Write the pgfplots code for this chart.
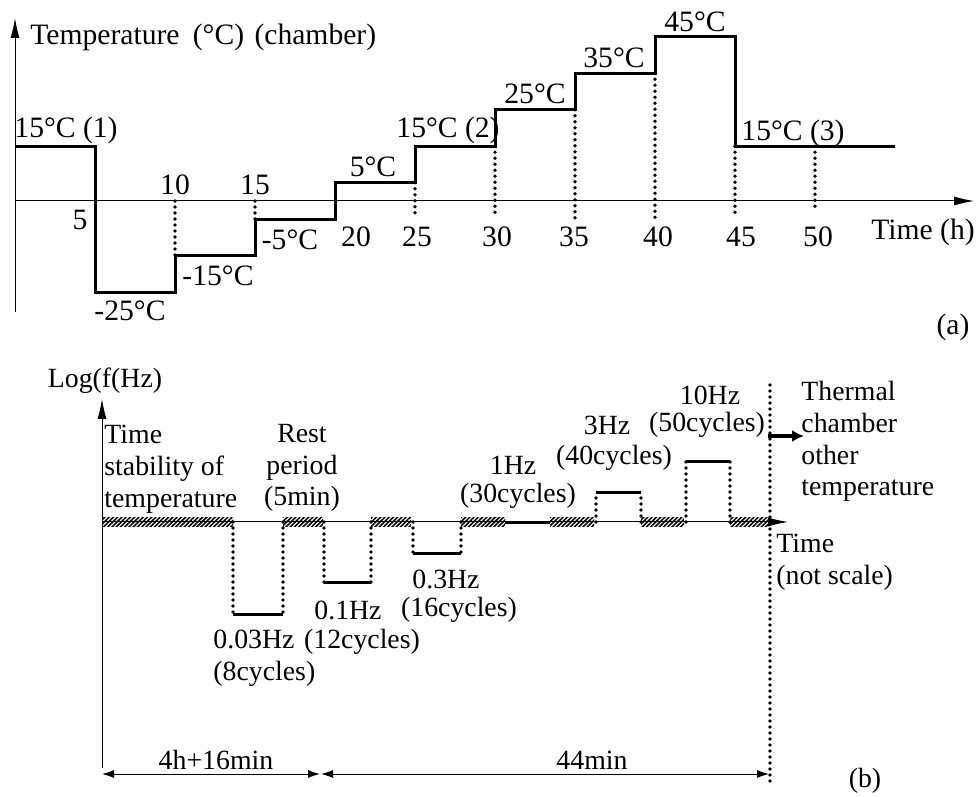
\documentclass[border=0pt]{standalone}
\usepackage{fontspec}
\setmainfont{Liberation Serif}
\usepackage{pgfplots}
\pgfplotsset{compat=1.18}
\usetikzlibrary{arrows.meta,patterns.meta}

\begin{document}
\begin{tikzpicture}[
  dots/.style={line width=1.9pt, dash pattern=on 0pt off 3pt, line cap=round},
  hatch/.style={draw=none, pattern={Lines[angle=45,distance=1.5pt,line width=0.8pt]}},
  fa/.style={font=\fontsize{14.8}{17}\selectfont, inner sep=0pt},
  fb/.style={font=\fontsize{13.9}{15.9}\selectfont, inner sep=0pt},
  ax/.style={line width=0.5pt, -{Latex[length=10pt,width=4.5pt]}},
]
% ---------- pixel-coordinate annotation layer (x right, y down) ----------
\begin{scope}[x=0.5pt, y=-0.5pt, shift={(0,398pt)}]
  % panel (a) axes
  \draw[ax] (15,312) -- (15,18);
  \draw[ax] (15,201) -- (974,201);
  \node[fa, anchor=west] at (30,37) {Temperature\hspace{0.45em}(°C)\hspace{0.35em}(chamber)};
  \node[fa] at (66,130) {15°C (1)};
  \node[fa] at (130,311) {-25°C};
  \node[fa] at (218,276) {-15°C};
  \node[fa] at (290,240) {-5°C};
  \node[fa] at (373,167) {5°C};
  \node[fa] at (448,130) {15°C (2)};
  \node[fa] at (535,94) {25°C};
  \node[fa] at (614,58) {35°C};
  \node[fa] at (695,22) {45°C};
  \node[fa] at (793,133) {15°C (3)};
  \node[fa] at (80,220) {5};
  \node[fa] at (175,185) {10};
  \node[fa] at (255,185) {15};
  \node[fa] at (356,237) {20};
  \node[fa] at (417,237) {25};
  \node[fa] at (497,237) {30};
  \node[fa] at (574,237) {35};
  \node[fa] at (658,237) {40};
  \node[fa] at (741,237) {45};
  \node[fa] at (818,237) {50};
  \node[fa] at (923,232) {Time (h)};
  \node[fa] at (953,327) {(a)};
  % panel (b) axes
  \draw[ax] (102,768) -- (102,399);
  \draw[ax] (102,522) -- (788,522);
  \draw[dots] (770,385) -- (770,783);
  \draw[line width=0.5pt, {Latex[length=6pt,width=4pt]}-{Latex[length=6pt,width=4pt]}] (102,774) -- (320,774);
  \draw[line width=0.5pt, {Latex[length=6pt,width=4pt]}-{Latex[length=6pt,width=4pt]}] (321,774) -- (769,774);
  \draw[line width=2pt, -{Latex[length=6pt,width=6pt]}] (768,436) -- (804,436);
  \node[fb] at (105,381) {Log(f(Hz)};
  \node[fb, anchor=west, align=left] at (104,469) {Time\\stability of\\temperature};
  \node[fb, align=center] at (302,468) {Rest\\period\\(5min)};
  \node[fb, anchor=west, align=left] at (213,658.5) {0.03Hz\\(8cycles)};
  \node[fb] at (348,610) {0.1Hz};
  \node[fb] at (362,642) {(12cycles)};
  \node[fb] at (446,579) {0.3Hz};
  \node[fb] at (459,610) {(16cycles)};
  \node[fb] at (513,465) {1Hz};
  \node[fb] at (518,496) {(30cycles)};
  \node[fb] at (607,425) {3Hz};
  \node[fb] at (614,458) {(40cycles)};
  \node[fb] at (710,395) {10Hz};
  \node[fb] at (707,425) {(50cycles)};
  \node[fb, anchor=west, align=left] at (801,441.5) {Thermal\\chamber\\other\\temperature};
  \node[fb, anchor=west, align=left] at (776,562) {Time\\(not scale)};
  \node[fb] at (216,760) {4h+16min};
  \node[fb] at (592,760) {44min};
  \node[fb] at (865,781) {(b)};
\end{scope}

% ---------- panel (a): temperature profile ----------
\begin{axis}[at={(0,228pt)}, anchor=south west, scale only axis,
  width=488.5pt, height=170pt,
  xmin=-0.9375, xmax=60.125, ymin=-38.08, ymax=55.07,
  hide axis, clip=false]
\addplot[black, line width=1.5pt, line join=miter] coordinates {
 (0,15)(5,15)(5,-25)(10,-25)(10,-15)(15,-15)(15,-5)(20,-5)(20,5)(25,5)(25,15)
 (30,15)(30,25)(35,25)(35,35)(40,35)(40,45)(45,45)(45,15)(55,15)};
\addplot[dots] coordinates {(10,0)(10,-15)};
\addplot[dots] coordinates {(15,0)(15,-5)};
\addplot[dots] coordinates {(25,5)(25,-4)};
\addplot[dots] coordinates {(30,15)(30,-4)};
\addplot[dots] coordinates {(35,25)(35,-5)};
\addplot[dots] coordinates {(40,35)(40,-5)};
\addplot[dots] coordinates {(45,15)(45,-4)};
\addplot[dots] coordinates {(50,15)(50,-3)};
\end{axis}

% ---------- panel (b): frequency sequence (y = log10 f) ----------
\begin{axis}[at={(0,0)}, anchor=south west, scale only axis,
  width=488.5pt, height=228pt,
  xmin=0, xmax=977, ymin=-4.492, ymax=2.984,
  hide axis, clip=false]
% rest / stabilisation periods (hatched)
\addplot[hatch] coordinates {(102,-0.08)(233,-0.08)(233,0.08)(102,0.08)} --cycle;
\addplot[hatch] coordinates {(283,-0.08)(323,-0.08)(323,0.08)(283,0.08)} --cycle;
\addplot[hatch] coordinates {(371,-0.08)(411,-0.08)(411,0.08)(371,0.08)} --cycle;
\addplot[hatch] coordinates {(461,-0.08)(505,-0.08)(505,0.08)(461,0.08)} --cycle;
\addplot[hatch] coordinates {(550,-0.08)(594,-0.08)(594,0.08)(550,0.08)} --cycle;
\addplot[hatch] coordinates {(641,-0.08)(684,-0.08)(684,0.08)(641,0.08)} --cycle;
\addplot[hatch] coordinates {(730,-0.08)(769,-0.08)(769,0.08)(730,0.08)} --cycle;
% frequency levels
\addplot[black, line width=1.5pt] coordinates {(233,-1.523)(283,-1.523)};
\addplot[black, line width=1.5pt] coordinates {(324,-1)(371,-1)};
\addplot[black, line width=1.5pt] coordinates {(413,-0.523)(461,-0.523)};
\addplot[black, line width=1.5pt] coordinates {(505,0)(550,0)};
\addplot[black, line width=1.5pt] coordinates {(596,0.477)(641,0.477)};
\addplot[black, line width=1.5pt] coordinates {(686,1)(730,1)};
% transitions
\addplot[dots] coordinates {(233,0)(233,-1.523)};
\addplot[dots] coordinates {(283,0)(283,-1.523)};
\addplot[dots] coordinates {(324,0)(324,-1)};
\addplot[dots] coordinates {(371,0)(371,-1)};
\addplot[dots] coordinates {(413,0)(413,-0.523)};
\addplot[dots] coordinates {(461,0)(461,-0.523)};
\addplot[dots] coordinates {(596,0)(596,0.477)};
\addplot[dots] coordinates {(641,0)(641,0.477)};
\addplot[dots] coordinates {(686,0)(686,1)};
\addplot[dots] coordinates {(730,0)(730,1)};
\end{axis}
\pgfresetboundingbox
\path (0,0) rectangle (488.5pt,398pt);
\end{tikzpicture}
\end{document}
